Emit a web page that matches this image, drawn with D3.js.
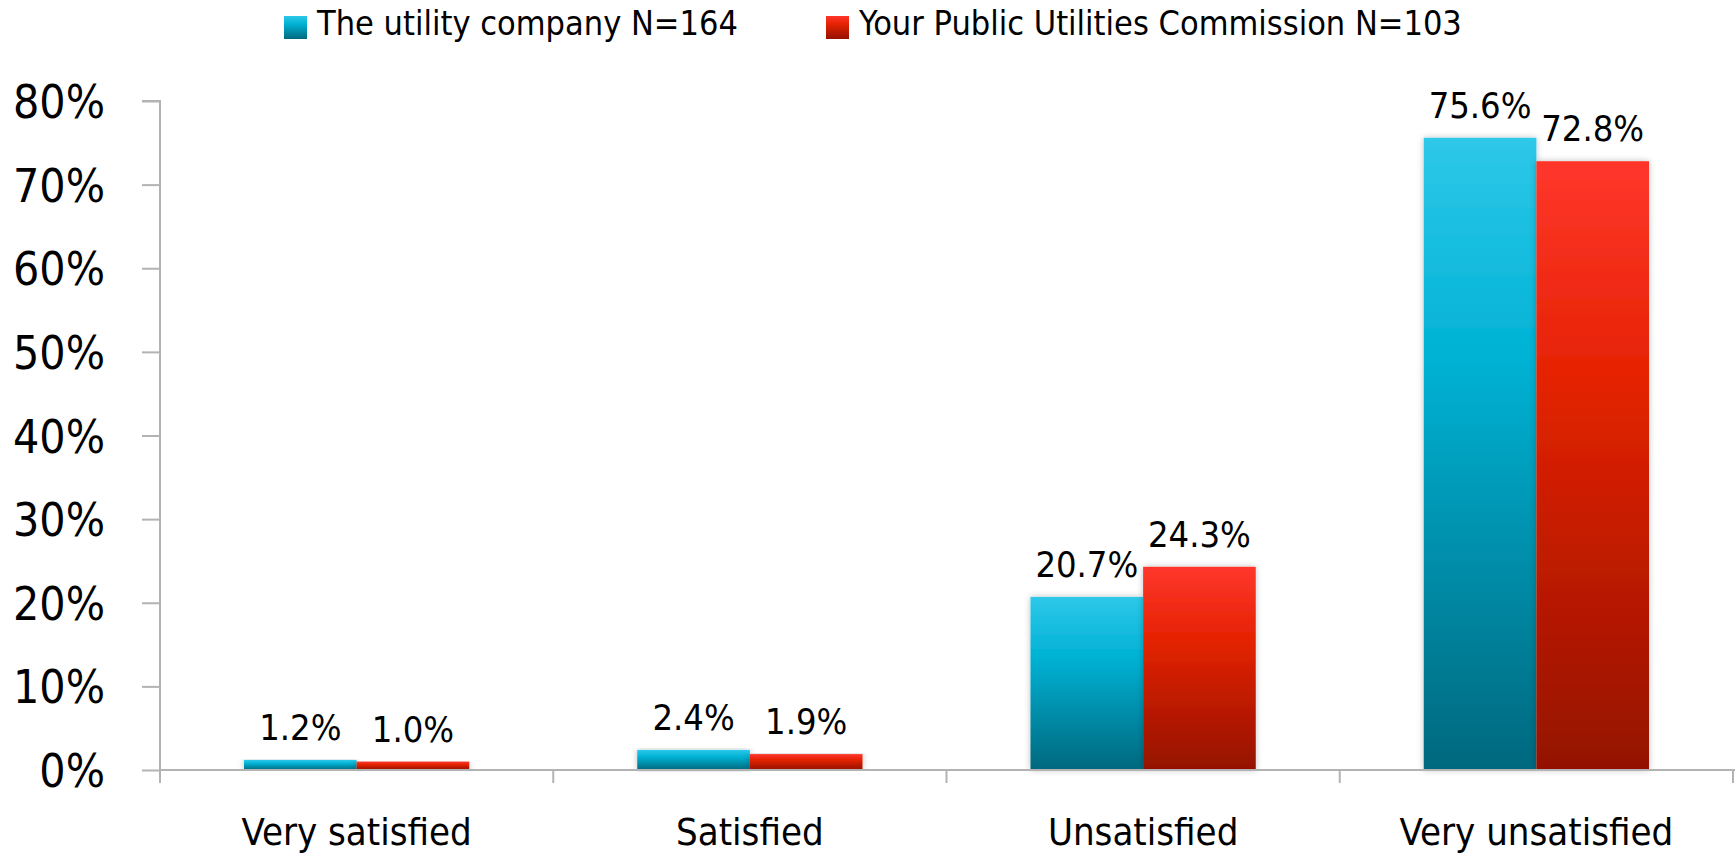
<!DOCTYPE html>
<html>
<head>
<meta charset="utf-8">
<script src="https://cdn.jsdelivr.net/npm/d3@7"></script>
<style>
  body { margin: 0; background: #fff; }
  svg { display: block; }
</style>
</head>
<body>
<div id="chart"></div>
<script>
// data
const categories = ["Very satisfied", "Satisfied", "Unsatisfied", "Very unsatisfied"];
const seriesNames = ["The utility company N=164", "Your Public Utilities Commission N=103"];
const utilityValues = [1.2, 2.4, 20.7, 75.6];
const commissionValues = [1.0, 1.9, 24.3, 72.8];
const yTicks = [0, 10, 20, 30, 40, 50, 60, 70, 80];

const width = 1735, height = 856;
const font = "'DejaVu Sans Condensed', 'DejaVu Sans', sans-serif";

const svg = d3.select("#chart").append("svg")
    .attr("width", width)
    .attr("height", height);

const defs = svg.append("defs");

function gradient(id, stops) {
    const g = defs.append("linearGradient")
        .attr("id", id)
        .attr("x1", 0).attr("y1", 0)
        .attr("x2", 0).attr("y2", 1);
    stops.forEach(s => g.append("stop").attr("offset", s[0]).attr("stop-color", s[1]));
}
gradient("grad-blue", [[0, "#2ec8e9"], [0.35, "#00b2d4"], [1, "#00687e"]]);
gradient("grad-red", [[0, "#ff362c"], [0.35, "#e52303"], [1, "#941100"]]);

defs.append("filter")
    .attr("id", "shadow")
    .attr("x", "-20%").attr("y", "-5%")
    .attr("width", "140%").attr("height", "110%")
    .append("feDropShadow")
    .attr("dx", 0).attr("dy", 0)
    .attr("stdDeviation", 3)
    .attr("flood-color", "#000")
    .attr("flood-opacity", 0.25);

const x0 = d3.scaleBand()
    .domain(categories)
    .range([160, 1733]);

const x1 = d3.scaleBand()
    .domain(seriesNames)
    .range([84, x0.bandwidth() - 84]);

const y = d3.scaleLinear()
    .domain([0, 80])
    .range([770, 101]);

const fills = ["url(#grad-blue)", "url(#grad-red)"];
const table = categories.map((c, i) => ({
    category: c,
    values: [
        { name: seriesNames[0], value: utilityValues[i], fill: fills[0] },
        { name: seriesNames[1], value: commissionValues[i], fill: fills[1] }
    ]
}));

// y axis
const yAxis = svg.append("g")
    .attr("transform", "translate(160,0)")
    .call(d3.axisLeft(y).tickValues(yTicks).tickSize(18).tickPadding(37).tickFormat(d => d + "%"));
yAxis.selectAll("line, path").attr("stroke", "#b3b3b3").attr("stroke-width", 2);
yAxis.select(".domain").attr("d", `M-18,${y(80)}H0V${y(0)}`);
yAxis.selectAll("text")
    .attr("font-family", font)
    .attr("font-size", 46)
    .attr("fill", "#000")
    .attr("dy", "0.36em");

// bars
const groups = svg.append("g")
    .selectAll("g")
    .data(table)
    .join("g")
    .attr("transform", d => `translate(${x0(d.category)},0)`);

groups.selectAll("rect")
    .data(d => d.values)
    .join("rect")
    .attr("x", d => x1(d.name))
    .attr("y", d => y(d.value))
    .attr("width", x1.bandwidth())
    .attr("height", d => y(0) - y(d.value))
    .attr("fill", d => d.fill)
    .attr("filter", "url(#shadow)");

groups.selectAll("text")
    .data(d => d.values)
    .join("text")
    .attr("x", d => x1(d.name) + x1.bandwidth() / 2)
    .attr("y", d => y(d.value) - 20)
    .attr("text-anchor", "middle")
    .attr("font-family", font)
    .attr("font-size", 36)
    .attr("fill", "#000")
    .text(d => d.value.toFixed(1) + "%");

// x axis
const xAxis = svg.append("g")
    .attr("transform", `translate(0,${y(0)})`)
    .call(d3.axisBottom(x0).tickSize(0).tickPadding(48));
xAxis.select(".domain").attr("stroke", "#b3b3b3").attr("stroke-width", 2)
    .attr("d", `M160,0H${width}`);
xAxis.selectAll("text")
    .attr("font-family", font)
    .attr("font-size", 38)
    .attr("fill", "#000");
xAxis.append("g")
    .selectAll("line")
    .data(categories.concat(["end"]))
    .join("line")
    .attr("x1", (d, i) => i < categories.length ? x0(d) : x0(categories[categories.length - 1]) + x0.bandwidth())
    .attr("x2", (d, i) => i < categories.length ? x0(d) : x0(categories[categories.length - 1]) + x0.bandwidth())
    .attr("y1", 0)
    .attr("y2", 13)
    .attr("stroke", "#b3b3b3")
    .attr("stroke-width", 2);

// legend
const legendX = [284, 826];
const legend = svg.append("g")
    .selectAll("g")
    .data(seriesNames)
    .join("g")
    .attr("transform", (d, i) => `translate(${legendX[i]},16)`);
legend.append("rect")
    .attr("width", 23)
    .attr("height", 23)
    .attr("fill", (d, i) => fills[i]);
legend.append("text")
    .attr("x", 33)
    .attr("y", 19)
    .attr("font-family", font)
    .attr("font-size", 34)
    .attr("fill", "#000")
    .text(d => d);
</script>
</body>
</html>
